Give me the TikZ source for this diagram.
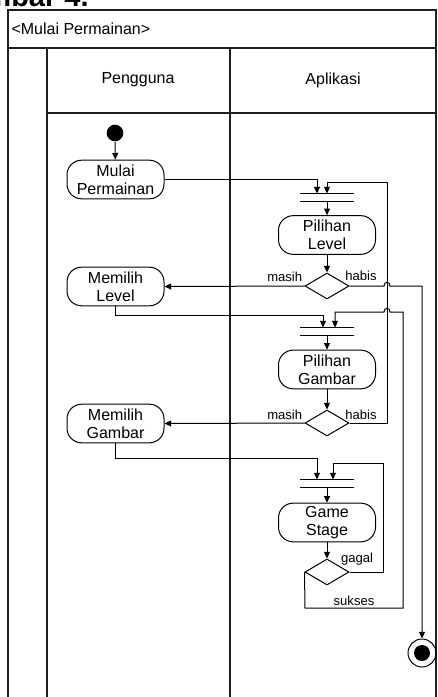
\documentclass[tikz,border=0pt]{standalone}
\usepackage{fontspec}
\setmainfont{Liberation Sans}
\usetikzlibrary{arrows.meta,shapes.geometric}

\tikzset{every picture/.style={line width=0.75pt}}

\begin{document}
\begin{tikzpicture}[x=0.75pt,y=0.75pt,yscale=-1,xscale=1,
	lane/.style={line width=1.2pt,draw={rgb, 255:red, 30; green, 30; blue, 30 }},
	act/.style={draw,rounded corners=11pt,minimum width=72.75pt,minimum height=29pt,align=center,inner sep=1pt,font=\fontsize{12}{13.5}\selectfont},
	dec/.style={draw,diamond,minimum width=33pt,minimum height=19.5pt,inner sep=0pt},
	forkbar/.style={minimum width=39.75pt,minimum height=5.25pt,inner sep=0pt},
	bar/.style={line width=1.1pt},
	flow/.style={-{Triangle[length=5pt,width=4.5pt]}},
	guard/.style={font=\fontsize{9.8}{11}\selectfont,inner sep=1pt},
	hdr/.style={font=\fontsize{12}{14}\selectfont}]
	\useasboundingbox (0,0) rectangle (437,697);

	% Text Node
	\node [anchor=base west,inner sep=0pt,font=\fontsize{21.75}{24}\selectfont\bfseries] (caption) at (-15,6) {mbar 4.};

	%Shape: Swimlane frame
	\draw [lane] (8,702) -- (8,10) -- (436,10) -- (436,702) ;
	\draw [lane] (8,48) -- (436,48) ;
	\draw [lane] (47,48) -- (47,702) ;
	\draw [lane] (230,48) -- (230,702) ;
	\draw [lane] (47,113) -- (436,113) ;

	% Text Node
	\node [hdr,anchor=west,inner sep=0pt] (judul) at (11,29) {<Mulai Permainan>};
	% Text Node
	\node [hdr] (pengguna) at (138,80) {Pengguna};
	% Text Node
	\node [hdr] (aplikasi) at (333,80) {Aplikasi};

	%Shape: Circle
	\node [circle,fill,minimum size=12.5pt,inner sep=0pt] (start) at (115,133) {};
	\node [act] (mulai) at (115.5,179.5) {Mulai\\Permainan};
	\node [act] (mlevel) at (115.5,286.5) {Memilih\\Level};
	\node [act] (mgambar) at (115.5,423.5) {Memilih\\Gambar};

	\node [forkbar] (fork1) at (327,197.5) {};
	\node [act] (plevel) at (327,235) {Pilihan\\Level};
	\node [dec] (dlevel) at (327,286) {};
	\node [forkbar] (fork2) at (327,331.5) {};
	\node [act] (pgambar) at (327,369.5) {Pilihan\\Gambar};
	\node [dec] (dgambar) at (327,423) {};
	\node [forkbar] (fork3) at (327,483.5) {};
	\node [act] (game) at (327,522.5) {Game\\Stage};
	\node [dec] (dgame) at (327,572) {};

	%Shape: Circle
	\node [draw,circle,minimum size=21pt,inner sep=0pt] (final) at (422,653) {};
	\fill (final.center) circle [radius=6pt] ;

	%Fork bars
	\foreach \f in {fork1,fork2,fork3}
		\draw [bar] (\f.north west) -- (\f.north east) (\f.south west) -- (\f.south east) ;

	% Text Node
	\node [guard,anchor=east] (masih1) at (304,277) {masih};
	\node [guard] (habis1) at (361,276) {habis};
	\node [guard,anchor=east] (masih2) at (304,415) {masih};
	\node [guard] (habis2) at (361,415) {habis};
	\node [guard] (gagal) at (357,559) {gagal};
	\node [guard] (sukses) at (354,601) {sukses};

	%Straight Lines
	\draw [flow] (start) -- (mulai) ;
	\draw [flow] (mulai.east) -| ([xshift=-7.5pt]fork1.north) ;
	\draw [flow] (fork1.south) -- (plevel.north) ;
	\draw [flow] (plevel) -- (dlevel) ;
	\draw [flow] (dlevel.west) -- (mlevel.east) ;
	\draw [flow] (dlevel.east) -- (384,286) .. controls (384,281) and (390,281) .. (390,286) -- (422,286) -- (final.north) ;
	\draw [flow] (mlevel.south) |- (323,315) -- ([xshift=-3pt]fork2.north) ;
	\draw [flow] (fork2.south) -- (pgambar.north) ;
	\draw [flow] (pgambar) -- (dgambar) ;
	\draw [flow] (dgambar.west) -- (mgambar.east) ;
	\draw [flow] (dgambar.east) -- (387,423) -- (387,182) -- (327,182) -- (fork1.north) ;
	\draw [flow] (mgambar.south) |- (317,458) -- ([xshift=-7.5pt]fork3.north) ;
	\draw [flow] (fork3.south) -- (game.north) ;
	\draw [flow] (game) -- (dgame) ;
	\draw [flow] (dgame.east) -- (383,572) -- (383,463) -- (333,463) -- ([xshift=4.5pt]fork3.north) ;
	\draw [flow] (dgame.west) -- (305,608) -- (403,608) -- (403,312) -- (390,312) .. controls (390,307) and (384,307) .. (384,312) -- (335,312) -- ([xshift=6pt]fork2.north) ;

\end{tikzpicture}
\end{document}
